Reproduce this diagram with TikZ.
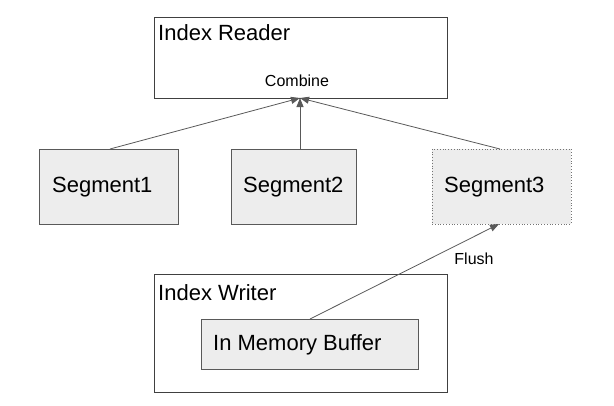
\documentclass[tikz,border=0pt]{standalone}
\usepackage{fontspec}
\setmainfont{Liberation Sans}
\usetikzlibrary{arrows.meta}
\begin{document}
\begin{tikzpicture}[x=1pt,y=-1pt,
  outer/.style={draw=black!75,line width=0.8pt,fill=white,minimum width=293pt,inner sep=0pt},
  seg/.style={draw=black!65,line width=0.8pt,fill=black!7,minimum width=139pt,minimum height=75pt,inner sep=0pt},
  conn/.style={draw=black!65,line width=0.8pt,-{Triangle[length=9pt,width=7pt]}},
  title/.style={anchor=west,font=\fontsize{22}{26}\selectfont,inner sep=0pt},
  lbl/.style={font=\fontsize{16}{19}\selectfont,inner sep=0pt}]
\useasboundingbox (0,0) rectangle (614,405);
\node[outer,minimum height=81pt] (reader) at (300.5,57.5) {};
\node[title] (rt) at (158,33) {Index Reader};
\node[lbl] (comb) at (297,81) {Combine};
\coordinate (join) at (300,98);
\node[seg] (s1) at (108.5,186.5) {};
\node[seg,minimum width=125pt] (s2) at (293.5,186.5) {};
\node[seg,draw=black!55,dotted] (s3) at (501.5,186.5) {};
\node[title] (s1t) at (52,187) {Segment1};
\node[title] (s2t) at (243,187) {Segment2};
\node[title] (s3t) at (444,187) {Segment3};
\node[outer,minimum height=118pt] (writer) at (300.5,333) {};
\node[title] (wt) at (158,293) {Index Writer};
\node[draw=black!65,line width=0.8pt,fill=black!7,minimum width=217pt,minimum height=50pt,inner sep=0pt] (buf) at (309.5,344) {};
\node[title] (bt) at (213,345) {In Memory Buffer};
\coordinate (s1top) at (110,149);
\coordinate (s3top) at (500,149);
\coordinate (buft) at (310,319);
\coordinate (s3b) at (499,224);
\draw[conn] (s1top) -- (join);
\draw[conn] (s2.north -| join) -- (join);
\draw[conn] (s3top) -- (join);
\draw[conn] (buft) -- (s3b);
\node[lbl] (flush) at (474,259) {Flush};
\end{tikzpicture}
\end{document}
